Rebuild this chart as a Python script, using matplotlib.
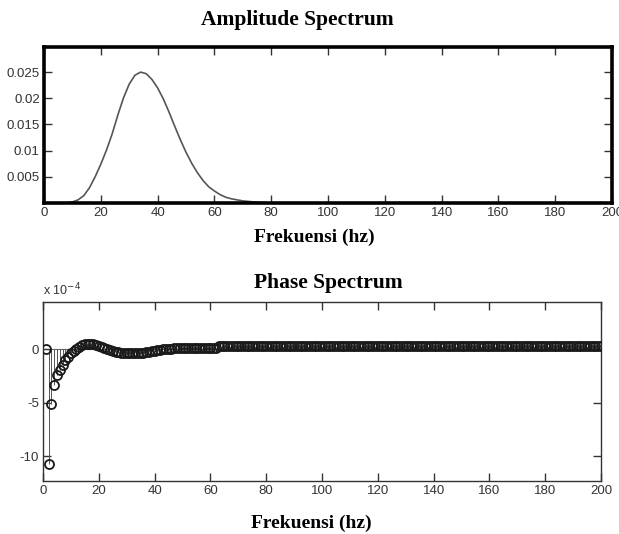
import matplotlib.pyplot as plt

plt.rcParams['axes.unicode_minus'] = False

# amplitude spectrum
amp_freq = [8, 10, 12, 14, 16, 18, 20, 22, 24, 26, 28, 30, 32, 34, 36, 38, 40,
            42, 44, 46, 48, 50, 52, 54, 56, 58, 60, 62, 64, 66, 68, 70, 72, 74,
            76, 78, 80]
amp_vals = [0.0, 0.0002, 0.0006, 0.0014, 0.0029, 0.0050, 0.0074, 0.0101,
            0.0132, 0.0168, 0.0201, 0.0227, 0.0244, 0.0250, 0.0247, 0.0236,
            0.0220, 0.0199, 0.0174, 0.0147, 0.0121, 0.0097, 0.0076, 0.0058,
            0.0043, 0.0031, 0.0023, 0.0016, 0.0011, 0.0008, 0.0006, 0.0004,
            0.0003, 0.0002, 0.00012, 0.00006, 0.0]

# phase spectrum (units of 1e-4), one value per hz from 1 to 200
phase_freq = list(range(1, 201))
phase_head = [0.0, -10.7, -5.1, -3.3, -2.45, -1.95, -1.5, -1.05, -0.7, -0.4,
              -0.16, 0.06, 0.22, 0.35, 0.44, 0.5, 0.52, 0.5, 0.42, 0.32,
              0.22, 0.12, 0.03, -0.06, -0.14, -0.22, -0.28, -0.33, -0.36,
              -0.37, -0.37, -0.37, -0.37, -0.36, -0.35, -0.33, -0.3, -0.26,
              -0.21, -0.16, -0.11, -0.07, -0.03, 0.0, 0.03, 0.05, 0.07]
phase_mid = [0.1] * 15      # 48..62 hz
phase_tail = [0.25] * 138   # 63..200 hz
phase_vals = phase_head + phase_mid + phase_tail

xticks = list(range(0, 201, 20))
amp_yticks = [0.005, 0.01, 0.015, 0.02, 0.025]
amp_ylabels = ['0.005', '0.01', '0.015', '0.02', '0.025']
phase_yticks = [-10, -5, 0]

tick_font = ['Liberation Sans Narrow', 'Liberation Sans', 'DejaVu Sans']
serif = 'Liberation Serif'

fig = plt.figure(figsize=(6.19, 5.34), dpi=100)

# --- amplitude ---
ax1 = fig.add_axes([44 / 619, 1 - 203 / 534, 568 / 619, 156 / 534])
ax1.plot(amp_freq, amp_vals, color='#555555', lw=1.2)
ax1.set_xlim(0, 200)
ax1.set_ylim(0, 0.0298)
ax1.set_xticks(xticks)
ax1.set_yticks(amp_yticks)
ax1.set_yticklabels(amp_ylabels)
for s in ax1.spines.values():
    s.set_linewidth(2.6)
ax1.tick_params(direction='in', length=6, width=1, top=True, right=True,
                colors='#333333', labelsize=9.5, pad=3)

# --- phase ---
ax2 = fig.add_axes([43 / 619, 1 - 481 / 534, 558 / 619, 179 / 534])
ax2.axhline(0, color='#666666', lw=0.8, zorder=1)
ax2.vlines(phase_freq, 0, phase_vals, color='#555555', lw=0.7, zorder=2)
ax2.plot(phase_freq, phase_vals, 'o', ms=6.5, mfc='none', mec='#1a1a1a',
         mew=1.3, zorder=3)
ax2.set_xlim(0, 200)
ax2.set_ylim(-12.3, 4.4)
ax2.set_xticks(xticks)
ax2.set_yticks(phase_yticks)
for s in ax2.spines.values():
    s.set_linewidth(1.0)
    s.set_color('#333333')
ax2.tick_params(direction='in', length=6, width=1, top=True, right=True,
                colors='#333333', labelsize=9.5, pad=3)

for ax in (ax1, ax2):
    for lab in ax.get_xticklabels() + ax.get_yticklabels():
        lab.set_family(tick_font)
        lab.set_color('#333333')

ax2.text(0.0, 1.02, r'x 10$^{-4}$', transform=ax2.transAxes, ha='left',
         va='bottom', fontsize=9, family=tick_font, color='#333333')

# titles and axis labels
fig.text(297 / 619, 1 - 20 / 534, 'Amplitude Spectrum', ha='center',
         va='center', fontsize=15.5, fontweight='bold', family=serif)
fig.text(314 / 619, 1 - 237 / 534, 'Frekuensi (hz)', ha='center',
         va='center', fontsize=14, fontweight='bold', family=serif)
fig.text(328 / 619, 1 - 283 / 534, 'Phase Spectrum', ha='center',
         va='center', fontsize=15.5, fontweight='bold', family=serif)
fig.text(311 / 619, 1 - 523 / 534, 'Frekuensi (hz)', ha='center',
         va='center', fontsize=14, fontweight='bold', family=serif)

fig.savefig('out.png', dpi=100)
